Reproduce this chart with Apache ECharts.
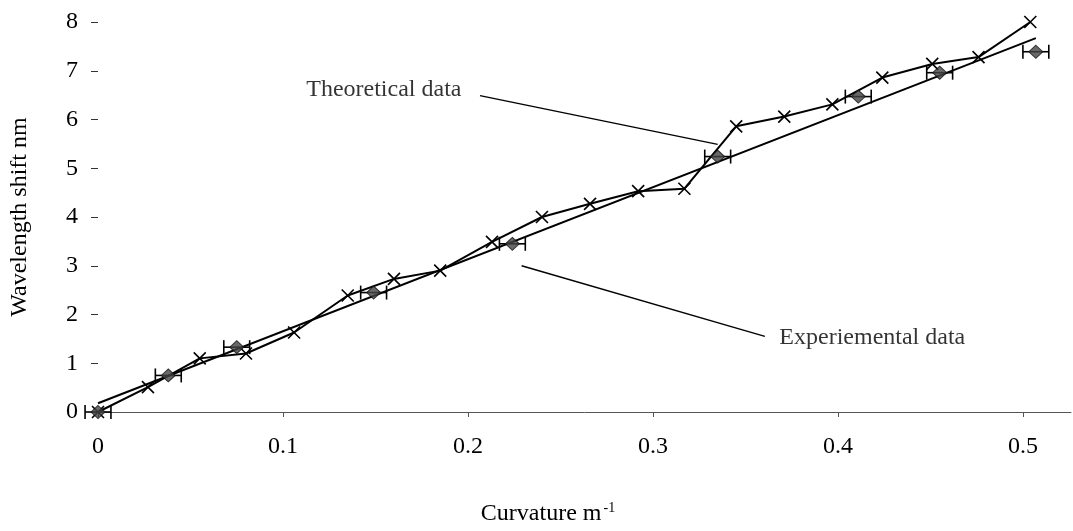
<!DOCTYPE html>
<html>
<head>
<meta charset="utf-8">
<title>Wavelength shift vs curvature</title>
<script src="https://cdn.jsdelivr.net/npm/echarts@6/dist/echarts.min.js"></script>
<style>
  html, body { margin: 0; padding: 0; background: #fff; }
  #chart { width: 1073px; height: 531px; }
</style>
</head>
<body>
<div id="chart"></div>
<script>
// Theoretical wavelength shift (nm) against curvature (1/m)
const theoryCurvature = [0, 0.027, 0.055, 0.080, 0.106, 0.135, 0.160, 0.185, 0.213, 0.240,
                         0.266, 0.292, 0.317, 0.345, 0.371, 0.397, 0.424, 0.451, 0.476, 0.504];
const theoryShift     = [0, 0.51, 1.10, 1.20, 1.63, 2.39, 2.73, 2.90, 3.49, 4.00,
                         4.27, 4.53, 4.58, 5.86, 6.06, 6.31, 6.86, 7.14, 7.28, 8.00];

// Measured points with horizontal (curvature) uncertainty
const expCurvature = [0, 0.038, 0.075, 0.149, 0.224, 0.335, 0.411, 0.455, 0.507];
const expShift     = [0, 0.75, 1.33, 2.45, 3.45, 5.24, 6.47, 6.96, 7.39];
const expCurvErr   = [0.007, 0.007, 0.007, 0.007, 0.007, 0.007, 0.007, 0.007, 0.007];

// Straight-line fit through the measured points
const fitCurvature = [0, 0.507];
const fitShift     = [0.18, 7.67];

// Callout lines (start, end) in data units and their labels
const theoryCallout = [[0.2065, 6.49], [0.335, 5.49]];
const expCallout    = [[0.229, 3.0], [0.3605, 1.55]];
const theoryLabel = 'Theoretical data';
const expLabel = 'Experiemental data';

// Axis ticks
const xTicks = [0, 0.1, 0.2, 0.3, 0.4, 0.5];
const yTicks = [0, 1, 2, 3, 4, 5, 6, 7, 8];

const FONT = 'Liberation Serif';
const INK = '#000';
const FS = 24;

const zip = (a, b) => a.map((v, i) => [v, b[i]]);

const chart = echarts.init(document.getElementById('chart'), null, { renderer: 'canvas' });

const crossSymbol = 'path://M0,0L10,10M10,0L0,10';

chart.setOption({
  backgroundColor: '#ffffff',
  animation: false,
  grid: { left: 98, right: 2, top: 22, bottom: 117, containLabel: false },
  xAxis: {
    type: 'value',
    min: 0,
    max: 0.526,
    name: '{a|Curvature m}{s|-1}',
    nameLocation: 'middle',
    nameGap: 89,
    nameTextStyle: {
      padding: [0, 73, 0, 0],
      rich: {
        a: { fontFamily: FONT, fontSize: FS, color: INK },
        s: { fontFamily: FONT, fontSize: 14, color: INK, verticalAlign: 'bottom', padding: [0, 0, 12, 2] }
      }
    },
    axisLine: { show: true, lineStyle: { color: '#555', width: 1 } },
    axisTick: { show: true, length: 5, lineStyle: { color: '#555' }, customValues: xTicks },
    axisLabel: {
      customValues: xTicks,
      margin: 23,
      fontFamily: FONT, fontSize: FS, color: INK,
      formatter: v => String(v)
    },
    splitLine: { show: false }
  },
  yAxis: {
    type: 'value',
    min: 0,
    max: 8,
    interval: 1,
    offset: 3,
    name: 'Wavelength shift nm',
    nameLocation: 'middle',
    nameGap: 63,
    nameTextStyle: { fontFamily: FONT, fontSize: FS, color: INK },
    axisLine: { show: false },
    axisTick: { show: true, length: 7, lineStyle: { color: '#333' }, customValues: yTicks },
    axisLabel: { customValues: yTicks, margin: 17, fontFamily: FONT, fontSize: FS, color: INK },
    splitLine: { show: false }
  },
  series: [
    {
      name: 'Fit',
      type: 'line',
      data: zip(fitCurvature, fitShift),
      symbol: 'none',
      lineStyle: { color: '#000', width: 2 },
      z: 2,
      clip: false
    },
    {
      name: theoryLabel,
      type: 'line',
      data: zip(theoryCurvature, theoryShift),
      symbol: crossSymbol,
      symbolSize: 12,
      itemStyle: { color: 'none', borderColor: '#000', borderWidth: 1.6 },
      lineStyle: { color: '#000', width: 2 },
      z: 3,
      clip: false
    },
    {
      name: 'Error',
      type: 'custom',
      data: expCurvature.map((x, i) => [x, expShift[i], expCurvErr[i]]),
      renderItem: (params, api) => {
        const x = api.value(0), y = api.value(1), e = api.value(2);
        const p0 = api.coord([x - e, y]);
        const p1 = api.coord([x + e, y]);
        const h = 7;
        const style = { stroke: '#000', lineWidth: 1.6 };
        return {
          type: 'group',
          children: [
            { type: 'line', shape: { x1: p0[0], y1: p0[1], x2: p1[0], y2: p1[1] }, style },
            { type: 'line', shape: { x1: p0[0], y1: p0[1] - h, x2: p0[0], y2: p0[1] + h }, style },
            { type: 'line', shape: { x1: p1[0], y1: p1[1] - h, x2: p1[0], y2: p1[1] + h }, style }
          ]
        };
      },
      z: 4,
      clip: false
    },
    {
      name: expLabel,
      type: 'scatter',
      data: zip(expCurvature, expShift),
      symbol: 'diamond',
      symbolSize: [14, 13],
      itemStyle: { color: '#444', borderColor: '#111', borderWidth: 1 },
      z: 5,
      clip: false
    },
    {
      name: 'Callout theory',
      type: 'line',
      data: theoryCallout,
      symbol: 'none',
      lineStyle: { color: '#000', width: 1.4 },
      z: 1
    },
    {
      name: 'Callout exp',
      type: 'line',
      data: expCallout,
      symbol: 'none',
      lineStyle: { color: '#000', width: 1.4 },
      z: 1
    },
    {
      name: 'Callout labels',
      type: 'scatter',
      symbolSize: 1,
      itemStyle: { color: 'rgba(0,0,0,0)' },
      data: [
        {
          value: theoryCallout[0],
          label: { show: true, position: 'left', distance: 18, offset: [0, -6],
                   formatter: theoryLabel, fontFamily: FONT, fontSize: FS, color: INK }
        },
        {
          value: expCallout[1],
          label: { show: true, position: 'right', distance: 14, offset: [0, 1],
                   formatter: expLabel, fontFamily: FONT, fontSize: FS, color: INK }
        }
      ],
      silent: true,
      z: 6
    }
  ]
});
</script>
</body>
</html>
